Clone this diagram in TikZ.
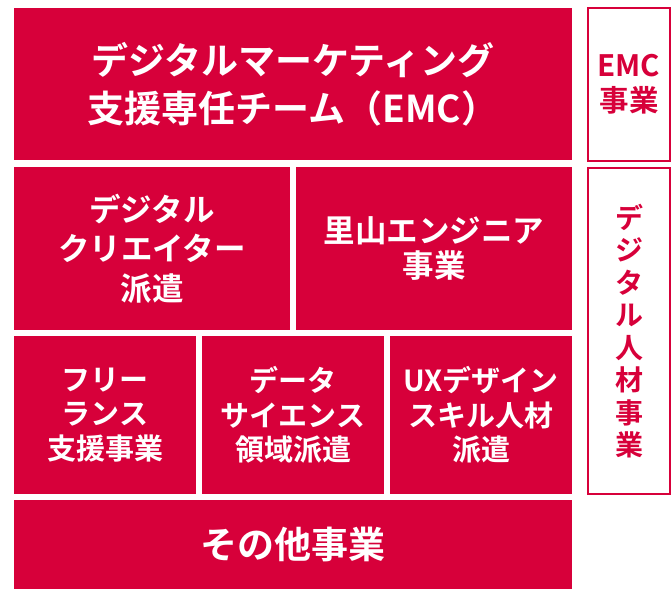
\documentclass[tikz,border=0pt]{standalone}
\usepackage{fontspec}
\newfontfamily\jpfont{Noto Sans CJK JP Bold}
\definecolor{emcred}{RGB}{215,0,58}

\tikzset{
  redbox/.style={fill=emcred, text=white, inner sep=0pt, align=center,
    font=\jpfont\fontsize{29}{34.5}\selectfont},
  linebox/.style={draw=emcred, line width=2pt, text=emcred, inner sep=0pt,
    align=center, minimum width=82pt, font=\jpfont\fontsize{29.5}{35}\selectfont},
}

\begin{document}
\begin{tikzpicture}[x=1pt, y=-1pt]
\useasboundingbox (0,0) rectangle (671,589);

% top row
\node[redbox, minimum width=558pt, minimum height=152pt,
  font=\jpfont\fontsize{37}{48}\selectfont] (emcteam) at (293,84)
  {デジタルマーケティング\\支援専任チーム（EMC）};

% second row
\node[redbox, minimum width=276pt, minimum height=163pt,
  font=\jpfont\fontsize{31.5}{39.5}\selectfont] (creator) at (152,248.5)
  {デジタル\\クリエイター\\派遣};
\node[redbox, minimum width=276pt, minimum height=163pt,
  font=\jpfont\fontsize{31.5}{35}\selectfont] (satoyama) at (434,248.5)
  {里山エンジニア\\事業};

% third row
\node[redbox, minimum width=182pt, minimum height=158pt] (freelance) at (105,415)
  {フリー\\ランス\\支援事業};
\node[redbox, minimum width=182pt, minimum height=158pt] (datasci) at (293,415)
  {データ\\サイエンス\\領域派遣};
\node[redbox, minimum width=182pt, minimum height=158pt] (uxdesign) at (481,415)
  {UXデザイン\\スキル人材\\派遣};

% bottom row
\node[redbox, minimum width=558pt, minimum height=89pt,
  font=\jpfont\fontsize{37}{48}\selectfont] (other) at (293,544.5) {その他事業};

% outlined labels
\node[linebox, minimum height=153pt] (emcbiz) at (629,84.5) {EMC\\事業};
\node[linebox, minimum height=326pt, font=\jpfont\fontsize{28}{32.5}\selectfont]
  (digitalhr) at (629,331) {デ\\ジ\\タ\\ル\\人\\材\\事\\業};
\end{tikzpicture}
\end{document}
